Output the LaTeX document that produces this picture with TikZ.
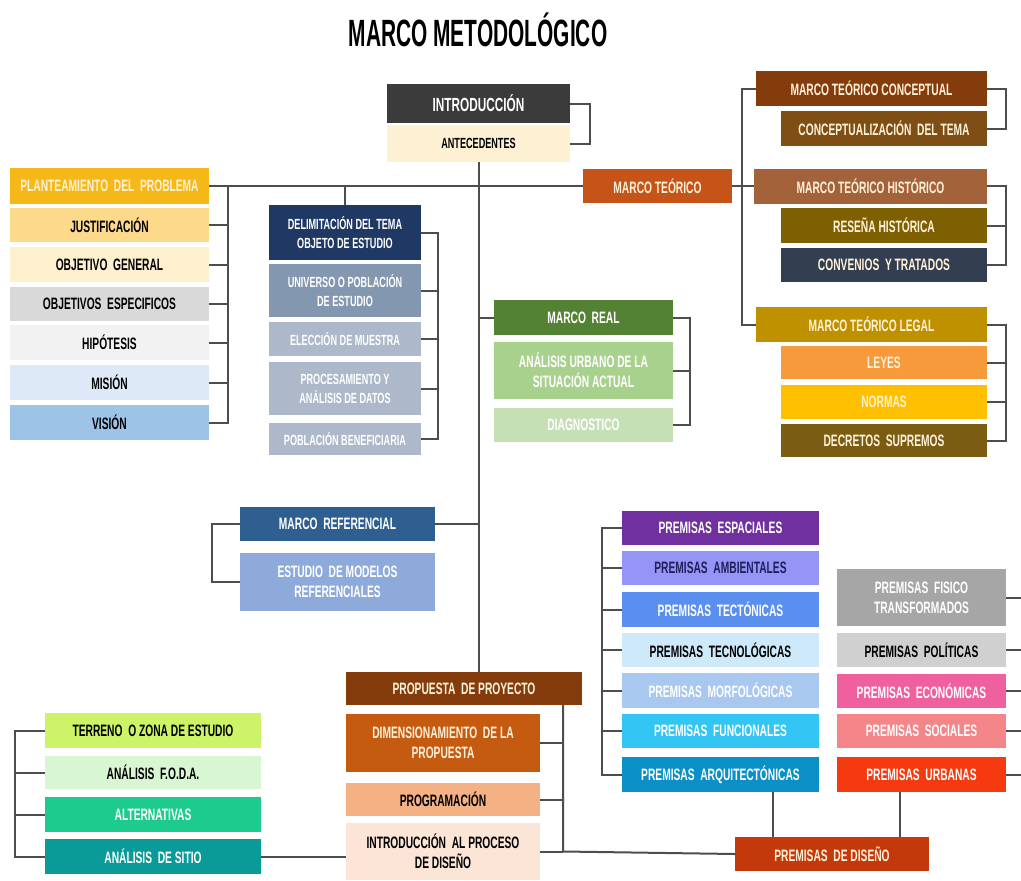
\documentclass[tikz,border=0pt]{standalone}
\usepackage{fontspec}
\setmainfont{Liberation Sans}
\newfontfamily\angosta[FakeStretch=0.62]{Liberation Sans}
\newfontfamily\titular[FakeStretch=0.55]{Liberation Sans}
\definecolor{lineaC}{HTML}{4D4D4D}
\definecolor{cremaT}{HTML}{FFF2DA}
\definecolor{plantC}{HTML}{F5B818}
\definecolor{justC}{HTML}{FDD98B}
\definecolor{objgC}{HTML}{FEF0CE}
\definecolor{objeC}{HTML}{D9D9D9}
\definecolor{hipoC}{HTML}{F2F2F2}
\definecolor{misC}{HTML}{DDE9F6}
\definecolor{visC}{HTML}{9DC3E6}
\definecolor{introC}{HTML}{3B3B3B}
\definecolor{anteC}{HTML}{FEF1D3}
\definecolor{teoC}{HTML}{C65418}
\definecolor{delimC}{HTML}{1F3864}
\definecolor{univC}{HTML}{8497B0}
\definecolor{elecC}{HTML}{ADB9CA}
\definecolor{realC}{HTML}{548235}
\definecolor{urbC}{HTML}{A9D18E}
\definecolor{diagC}{HTML}{C5E0B4}
\definecolor{concC}{HTML}{843C0C}
\definecolor{cdtC}{HTML}{7E4E14}
\definecolor{histC}{HTML}{A4623A}
\definecolor{resC}{HTML}{7F6000}
\definecolor{convC}{HTML}{333F50}
\definecolor{legalC}{HTML}{BF9000}
\definecolor{leyC}{HTML}{F79A3B}
\definecolor{normC}{HTML}{FFC000}
\definecolor{decrC}{HTML}{7A5C12}
\definecolor{refC}{HTML}{2F5F91}
\definecolor{modC}{HTML}{8EAADB}
\definecolor{dimC}{HTML}{C55A11}
\definecolor{progC}{HTML}{F4B183}
\definecolor{ipdC}{HTML}{FBE5D6}
\definecolor{terrC}{HTML}{CDF468}
\definecolor{fodaC}{HTML}{D9F6D3}
\definecolor{altC}{HTML}{1DCB8F}
\definecolor{sitioC}{HTML}{0A9A98}
\definecolor{espC}{HTML}{7030A0}
\definecolor{ambC}{HTML}{9595F7}
\definecolor{ambT}{HTML}{1F1F5A}
\definecolor{tecC}{HTML}{5B8FEF}
\definecolor{tecnC}{HTML}{CDE9FA}
\definecolor{morfC}{HTML}{A8C8F0}
\definecolor{funcC}{HTML}{33C5F3}
\definecolor{arqC}{HTML}{0A8FC6}
\definecolor{fisC}{HTML}{A6A6A6}
\definecolor{polC}{HTML}{D0D0D0}
\definecolor{ecoC}{HTML}{F0609E}
\definecolor{socC}{HTML}{F4868A}
\definecolor{urbaC}{HTML}{F53A10}
\definecolor{disC}{HTML}{C4390B}
\begin{document}
\begin{tikzpicture}
  [x=1pt, y=-1pt,
   caja/.style 2 args={rectangle, inner sep=0pt, align=center, text=white,
     minimum width=#1, minimum height=#2,
     font=\angosta\bfseries\fontsize{16.5}{20}\selectfont},
   menor/.style={font=\angosta\bfseries\fontsize{14.7}{19}\selectfont},
   oscuro/.style={text=black},
   linea/.style={draw=lineaC, line width=2pt}]
  \useasboundingbox (0,0) rectangle (1021,881);
  \node[font=\titular\bfseries\fontsize{38}{40}\selectfont] (titulo) at (478,30) {MARCO METODOLÓGICO};

  % introduccion y marco teorico
  \node[caja={183}{39}, fill=introC, font=\angosta\bfseries\fontsize{19}{20}\selectfont] (intro) at (478.5,103.5) {INTRODUCCIÓN};
  \node[caja={183}{37}, fill=anteC, oscuro, menor] (ante) at (478.5,143.5) {ANTECEDENTES};
  \node[caja={149}{34}, fill=teoC, text=cremaT] (teo) at (657.5,186) {MARCO TEÓRICO};

  % columna izquierda
  \node[caja={199}{36}, fill=plantC, text=cremaT] (plan) at (109.5,186) {PLANTEAMIENTO\ \ DEL\ \ PROBLEMA};
  \node[caja={199}{34}, fill=justC, oscuro] (just) at (109.5,225) {JUSTIFICACIÓN};
  \node[caja={199}{35}, fill=objgC, oscuro] (objg) at (109.5,264.5) {OBJETIVO\ \ GENERAL};
  \node[caja={199}{34}, fill=objeC, oscuro] (obje) at (109.5,304) {OBJETIVOS\ \ ESPECIFICOS};
  \node[caja={199}{35}, fill=hipoC, oscuro] (hipo) at (109.5,342.5) {HIPÓTESIS};
  \node[caja={199}{35}, fill=misC, oscuro] (mis) at (109.5,382.5) {MISIÓN};
  \node[caja={199}{35}, fill=visC, oscuro] (vis) at (109.5,422.5) {VISIÓN};

  % delimitacion
  \node[caja={152}{55}, fill=delimC, menor] (delim) at (345,232.5) {DELIMITACIÓN DEL TEMA\\OBJETO DE ESTUDIO};
  \node[caja={152}{53}, fill=univC, menor] (univ) at (345,290.5) {UNIVERSO O POBLACIÓN\\DE ESTUDIO};
  \node[caja={152}{34}, fill=elecC, menor] (elec) at (345,339) {ELECCIÓN DE MUESTRA};
  \node[caja={152}{53}, fill=elecC, menor] (proc) at (345,388.5) {PROCESAMIENTO Y\\ANÁLISIS DE DATOS};
  \node[caja={152}{32}, fill=elecC, menor] (pobl) at (345,439) {POBLACIÓN BENEFICIARIA};

  % marco real
  \node[caja={179}{35}, fill=realC] (real) at (583.5,317.5) {MARCO\ \ REAL};
  \node[caja={179}{57}, fill=urbC] (urb) at (583.5,370.5) {ANÁLISIS URBANO DE LA\\SITUACIÓN ACTUAL};
  \node[caja={179}{34}, fill=diagC] (diag) at (583.5,425) {DIAGNOSTICO};

  % ramas del marco teorico
  \node[caja={231}{35}, fill=concC, text=cremaT] (conc) at (871.5,88.5) {MARCO TEÓRICO CONCEPTUAL};
  \node[caja={206}{35}, fill=cdtC, text=cremaT] (cdt) at (884,128.5) {CONCEPTUALIZACIÓN\ \ DEL TEMA};
  \node[caja={233}{35}, fill=histC, text=cremaT] (hist) at (870.5,186) {MARCO TEÓRICO HISTÓRICO};
  \node[caja={206}{35}, fill=resC, text=cremaT] (res) at (884,225.5) {RESEÑA HISTÓRICA};
  \node[caja={206}{34}, fill=convC, text=cremaT] (conv) at (884,265) {CONVENIOS\ \ Y TRATADOS};
  \node[caja={231}{35}, fill=legalC, text=cremaT] (legal) at (871.5,324.5) {MARCO TEÓRICO LEGAL};
  \node[caja={206}{33}, fill=leyC, text=cremaT] (leyes) at (884,362.5) {LEYES};
  \node[caja={206}{34}, fill=normC, text=cremaT] (normas) at (884,402) {NORMAS};
  \node[caja={206}{33}, fill=decrC, text=cremaT] (decr) at (884,440.5) {DECRETOS\ \ SUPREMOS};

  % marco referencial
  \node[caja={195}{34}, fill=refC] (ref) at (337.5,524) {MARCO\ \ REFERENCIAL};
  \node[caja={195}{58}, fill=modC] (mod) at (337.5,582) {ESTUDIO\ \ DE MODELOS\\REFERENCIALES};

  % propuesta
  \node[caja={236}{33}, fill=concC, text=cremaT] (prop) at (464,688.5) {PROPUESTA\ \ DE PROYECTO};
  \node[caja={194}{58}, fill=dimC, text=cremaT] (dim) at (443,743) {DIMENSIONAMIENTO\ \ DE LA\\PROPUESTA};
  \node[caja={194}{33}, fill=progC, oscuro] (prog) at (443,799.5) {PROGRAMACIÓN};
  \node[caja={194}{57}, fill=ipdC, oscuro] (ipd) at (443,851.5) {INTRODUCCIÓN\ \ AL PROCESO\\DE DISEÑO};

  % terreno
  \node[caja={216}{35}, fill=terrC, oscuro] (terr) at (153,730.5) {TERRENO\ \ O ZONA DE ESTUDIO};
  \node[caja={216}{33}, fill=fodaC, oscuro] (foda) at (153,772.5) {ANÁLISIS\ \ F.O.D.A.};
  \node[caja={216}{35}, fill=altC] (alt) at (153,814.5) {ALTERNATIVAS};
  \node[caja={216}{35}, fill=sitioC] (sitio) at (153,856.5) {ANÁLISIS\ \ DE SITIO};

  % premisas
  \node[caja={197}{34}, fill=espC] (esp) at (720.5,528) {PREMISAS\ \ ESPACIALES};
  \node[caja={197}{34}, fill=ambC, text=ambT] (amb) at (720.5,568) {PREMISAS\ \ AMBIENTALES};
  \node[caja={197}{35}, fill=tecC] (tec) at (720.5,609.5) {PREMISAS\ \ TECTÓNICAS};
  \node[caja={197}{34}, fill=tecnC, oscuro] (tecn) at (720.5,650) {PREMISAS\ \ TECNOLÓGICAS};
  \node[caja={197}{35}, fill=morfC] (morf) at (720.5,690.5) {PREMISAS\ \ MORFOLÓGICAS};
  \node[caja={197}{34}, fill=funcC] (func) at (720.5,731) {PREMISAS\ \ FUNCIONALES};
  \node[caja={197}{35}, fill=arqC] (arq) at (720.5,774.5) {PREMISAS\ \ ARQUITECTÓNICAS};
  \node[caja={169}{57}, fill=fisC] (fis) at (921.5,597.5) {PREMISAS\ \ FISICO\\TRANSFORMADOS};
  \node[caja={169}{34}, fill=polC, oscuro] (pol) at (921.5,650) {PREMISAS\ \ POLÍTICAS};
  \node[caja={169}{34}, fill=ecoC] (eco) at (921.5,691) {PREMISAS\ \ ECONÓMICAS};
  \node[caja={169}{34}, fill=socC] (soc) at (921.5,731) {PREMISAS\ \ SOCIALES};
  \node[caja={169}{35}, fill=urbaC] (urba) at (921.5,774.5) {PREMISAS\ \ URBANAS};
  \node[caja={194}{34}, fill=disC, text=cremaT] (dis) at (832,854) {PREMISAS\ \ DE DISEÑO};

  % conectores
  \draw[linea] (ante.south) -- (ante.south |- prop.north);
  \draw[linea] (plan.east) -- (teo.west);
  \draw[linea] (intro.east) -- ++(20,0) |- (ante.east);
  \draw[linea] (plan.east) ++(19,0) coordinate (bplan) |- (vis.east);
  \foreach \n in {just,objg,obje,hipo,mis}
    \draw[linea] (\n.east) -- (\n.east -| bplan);
  \draw[linea] (delim.north) -- (delim.north |- plan.east);
  \draw[linea] (delim.east) -- ++(17,0) coordinate (bdel) |- (pobl.east);
  \foreach \n in {univ,elec,proc}
    \draw[linea] (\n.east) -- (\n.east -| bdel);
  \draw[linea] (real.west) -- (real.west -| ante.south);
  \draw[linea] (real.east) -- ++(17,0) coordinate (breal) |- (diag.east);
  \draw[linea] (urb.east) -- (urb.east -| breal);
  \draw[linea] (teo.east) -- (hist.west);
  \path (teo.east) ++(10,0) coordinate (bteo);
  \draw[linea] (conc.west) -| (bteo) |- (legal.west);
  \draw[linea] (conc.east) -- ++(19,0) |- (cdt.east);
  \draw[linea] (hist.east) -- ++(19,0) coordinate (bhist) |- (conv.east);
  \draw[linea] (res.east) -- (res.east -| bhist);
  \draw[linea] (legal.east) -- ++(19,0) coordinate (blegal) |- (decr.east);
  \foreach \n in {leyes,normas}
    \draw[linea] (\n.east) -- (\n.east -| blegal);
  \draw[linea] (ref.east) -- (ref.east -| ante.south);
  \draw[linea] (ref.west) -- ++(-28,0) |- (mod.west);
  \draw[linea] ([xshift=99]prop.south) coordinate (bprop) -- (bprop |- ipd.east) -- (dis.west);
  \foreach \n in {dim,prog,ipd}
    \draw[linea] (\n.east) -- (\n.east -| bprop);
  \draw[linea] (terr.west) -- ++(-30,0) coordinate (bterr) |- (sitio.west);
  \foreach \n in {foda,alt}
    \draw[linea] (\n.west) -- (\n.west -| bterr);
  \draw[linea] (sitio.east) -- (sitio.east -| ipd.west);
  \draw[linea] (esp.west) -- ++(-20,0) coordinate (besp) |- (arq.west);
  \foreach \n in {amb,tec,tecn,morf,func}
    \draw[linea] (\n.west) -- (\n.west -| besp);
  \foreach \n in {fis,pol,eco,soc,urba}
    \draw[linea] (\n.east) -- ++(15,0);
  \draw[linea] ([xshift=52]arq.south) -- ([xshift=52]arq.south |- dis.north);
  \draw[linea] ([xshift=-22]urba.south) -- ([xshift=-22]urba.south |- dis.north);
\end{tikzpicture}
\end{document}
